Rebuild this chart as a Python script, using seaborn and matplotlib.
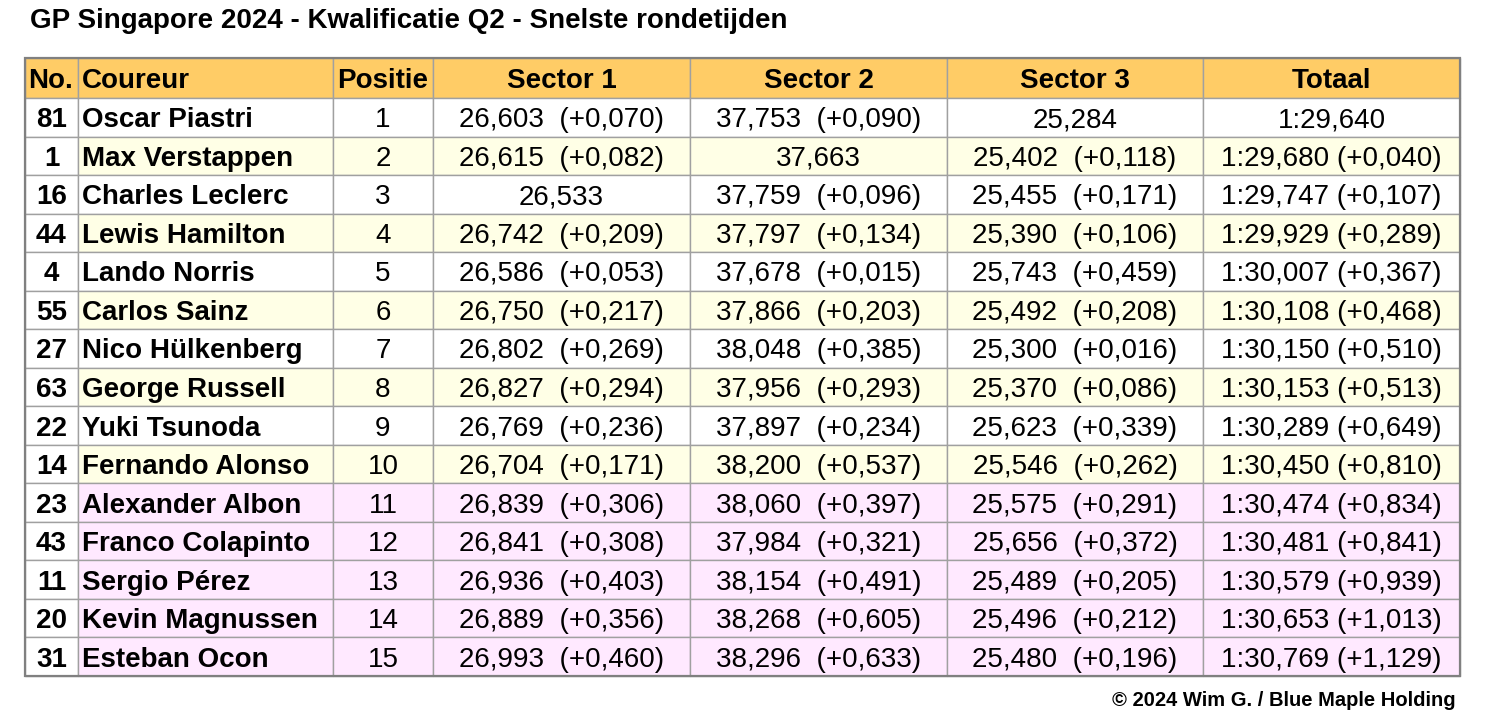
import matplotlib
matplotlib.use("Agg")
import matplotlib.pyplot as plt
from matplotlib.patches import Rectangle
import seaborn as sns

sns.set_theme(style="white")
plt.rcParams['font.family'] = ['Liberation Sans', 'DejaVu Sans']
plt.rcParams['text.color'] = 'black'

title = "GP Singapore 2024 - Kwalificatie Q2 - Snelste rondetijden"
credit = "© 2024 Wim G. / Blue Maple Holding"
headers = ["No.", "Coureur", "Positie", "Sector 1", "Sector 2", "Sector 3", "Totaal"]

numbers = [81, 1, 16, 44, 4, 55, 27, 63, 22, 14, 23, 43, 11, 20, 31]
drivers = ["Oscar Piastri", "Max Verstappen", "Charles Leclerc", "Lewis Hamilton",
           "Lando Norris", "Carlos Sainz", "Nico Hülkenberg", "George Russell",
           "Yuki Tsunoda", "Fernando Alonso", "Alexander Albon", "Franco Colapinto",
           "Sergio Pérez", "Kevin Magnussen", "Esteban Ocon"]
positions = list(range(1, 16))
sector1 = ["26,603", "26,615", "26,533", "26,742", "26,586", "26,750", "26,802", "26,827",
           "26,769", "26,704", "26,839", "26,841", "26,936", "26,889", "26,993"]
sector1_gap = ["+0,070", "+0,082", "", "+0,209", "+0,053", "+0,217", "+0,269", "+0,294",
               "+0,236", "+0,171", "+0,306", "+0,308", "+0,403", "+0,356", "+0,460"]
sector2 = ["37,753", "37,663", "37,759", "37,797", "37,678", "37,866", "38,048", "37,956",
           "37,897", "38,200", "38,060", "37,984", "38,154", "38,268", "38,296"]
sector2_gap = ["+0,090", "", "+0,096", "+0,134", "+0,015", "+0,203", "+0,385", "+0,293",
               "+0,234", "+0,537", "+0,397", "+0,321", "+0,491", "+0,605", "+0,633"]
sector3 = ["25,284", "25,402", "25,455", "25,390", "25,743", "25,492", "25,300", "25,370",
           "25,623", "25,546", "25,575", "25,656", "25,489", "25,496", "25,480"]
sector3_gap = ["", "+0,118", "+0,171", "+0,106", "+0,459", "+0,208", "+0,016", "+0,086",
               "+0,339", "+0,262", "+0,291", "+0,372", "+0,205", "+0,212", "+0,196"]
total = ["1:29,640", "1:29,680", "1:29,747", "1:29,929", "1:30,007", "1:30,108", "1:30,150",
         "1:30,153", "1:30,289", "1:30,450", "1:30,474", "1:30,481", "1:30,579", "1:30,653",
         "1:30,769"]
total_gap = ["", "+0,040", "+0,107", "+0,289", "+0,367", "+0,468", "+0,510", "+0,513",
             "+0,649", "+0,810", "+0,834", "+0,841", "+0,939", "+1,013", "+1,129"]

# layout (pixel coordinates)
W, H = 1488, 716
col_edges = [25, 78, 333, 433, 690, 947, 1203, 1460]
top, header_h, bottom = 58, 40, 676
n = len(drivers)
row_h = (bottom - top - header_h) / n

HEADER_C = "#FFCC66"
WHITE = "#FFFFFF"
YELLOW = "#FFFFE6"
PINK = "#FFE9FF"
GRID = "#A0A0A0"

fig = plt.figure(figsize=(W / 100, H / 100), dpi=100)
ax = fig.add_axes([0, 0, 1, 1])
ax.set_xlim(0, W)
ax.set_ylim(H, 0)
ax.axis("off")

fs = 20

def fmt(v, g, sep="  "):
    return f"{v}{sep}({g})" if g else v

# header
for c in range(7):
    x0, x1 = col_edges[c], col_edges[c + 1]
    ax.add_patch(Rectangle((x0, top), x1 - x0, header_h, facecolor=HEADER_C,
                           edgecolor=GRID, lw=1))
    yc = top + header_h / 2 + 3
    if c == 0:
        ax.text(x0 + 3, yc, headers[c], ha="left", va="center", fontsize=fs, weight="bold")
    elif c == 1:
        ax.text(x0 + 4, yc, headers[c], ha="left", va="center", fontsize=fs, weight="bold")
    else:
        ax.text((x0 + x1) / 2, yc, headers[c], ha="center", va="center", fontsize=fs,
                weight="bold")

for r in range(n):
    y0 = top + header_h + r * row_h
    yc = y0 + row_h / 2 + 3
    if r >= 10:
        bg = PINK
    elif r % 2 == 1:
        bg = YELLOW
    else:
        bg = WHITE
    vals = [str(numbers[r]), drivers[r], str(positions[r]),
            fmt(sector1[r], sector1_gap[r]), fmt(sector2[r], sector2_gap[r]),
            fmt(sector3[r], sector3_gap[r]), fmt(total[r], total_gap[r], " ")]
    for c in range(7):
        x0, x1 = col_edges[c], col_edges[c + 1]
        ax.add_patch(Rectangle((x0, y0), x1 - x0, row_h,
                               facecolor=WHITE if c == 0 else bg, edgecolor=GRID, lw=1))
        if c == 1:
            ax.text(x0 + 4, yc, vals[c], ha="left", va="center", fontsize=fs, weight="bold")
        elif c == 0:
            ax.text((x0 + x1) / 2, yc, vals[c], ha="center", va="center", fontsize=fs,
                    weight="bold")
        else:
            ax.text((x0 + x1) / 2, yc, vals[c], ha="center", va="center", fontsize=fs)

# outer border
ax.add_patch(Rectangle((col_edges[0], top), col_edges[-1] - col_edges[0], bottom - top,
                       facecolor="none", edgecolor="#808080", lw=1.6))

ax.text(30, 21, title, ha="left", va="center", fontsize=20, weight="bold")
ax.text(1456, 700, credit, ha="right", va="center", fontsize=14.5, weight="bold")

fig.savefig("out.png", dpi=100)
